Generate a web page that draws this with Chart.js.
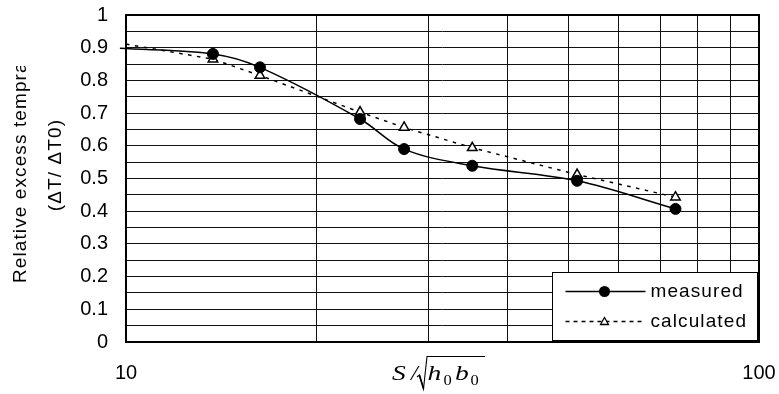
<!DOCTYPE html>
<html>
<head>
<meta charset="utf-8">
<script src="https://cdn.jsdelivr.net/npm/chart.js@4/dist/chart.umd.min.js"></script>
<style>
  html, body { margin: 0; padding: 0; background: #fff; overflow: hidden; }
  #wrap { width: 779px; height: 394px; position: relative; }
  canvas { display: block; }
</style>
</head>
<body>
<div id="wrap"><canvas id="chart" width="779" height="394"></canvas></div>
<script>
// Distance ratio S / sqrt(h0*b0) for each measurement station
const measuredX   = [9.78, 13.72, 16.28, 23.43, 27.5, 35.24, 51.6, 73.8];
const measuredY   = [0.898, 0.881, 0.840, 0.682, 0.590, 0.539, 0.493, 0.407];
const calculatedX = [10, 13.72, 16.28, 23.43, 27.5, 35.24, 51.6, 73.8];
const calculatedY = [0.911, 0.865, 0.815, 0.703, 0.656, 0.594, 0.512, 0.443];

// first entry of each series only carries the line in from the left edge
const measuredRadius   = [0, 5.5, 5.5, 5.5, 5.5, 5.5, 5.5, 5.5];
const calculatedRadius = [0, 5.5, 5.5, 5.5, 5.5, 5.5, 5.5, 5.5];

const seriesNames = ['measured', 'calculated'];
const xTickValues = [10, 100];
const xTickLabels = ['10', '100'];
const yTickLabels = ['0', '0.1', '0.2', '0.3', '0.4', '0.5', '0.6', '0.7', '0.8', '0.9', '1'];
const yTitleLines = ['Relative excess temprature', '(ΔT/ ΔT0)'];

const SANS = '"Liberation Sans", Arial, sans-serif';
const SERIF = '"Liberation Serif", "Times New Roman", serif';

// plot area edges in canvas pixels
const AREA = { left: 126, top: 15, right: 759, bottom: 342 };

function toPoints(xs, ys) { return xs.map((x, i) => ({ x: x, y: ys[i] })); }

// thick frame round the plot area
const framePlugin = {
  id: 'frame',
  beforeDatasetsDraw(chart) {
    const { ctx, chartArea: a } = chart;
    ctx.save();
    ctx.strokeStyle = '#000';
    ctx.lineWidth = 2;
    ctx.strokeRect(a.left, a.top, a.right - a.left, a.bottom - a.top);
    ctx.restore();
  }
};

// legend box in the lower right corner of the plot
const legendPlugin = {
  id: 'cornerLegend',
  afterDatasetsDraw(chart) {
    const { ctx, chartArea: a } = chart;
    const right = a.right - 1.5, bottom = a.bottom - 1.5;
    const left = right - 205, top = bottom - 68;
    ctx.save();
    ctx.fillStyle = '#fff';
    ctx.fillRect(left, top, right - left, bottom - top);
    ctx.strokeStyle = '#000';
    ctx.lineWidth = 1;
    ctx.strokeRect(left, top, right - left, bottom - top);

    const x0 = left + 13, x1 = left + 93, xm = left + 52;
    const rows = [top + 19, top + 49];
    const sets = chart.data.datasets;

    // measured
    ctx.strokeStyle = sets[0].borderColor;
    ctx.lineWidth = 1.5;
    ctx.setLineDash([]);
    ctx.beginPath(); ctx.moveTo(x0, rows[0]); ctx.lineTo(x1, rows[0]); ctx.stroke();
    ctx.fillStyle = '#000';
    ctx.beginPath(); ctx.arc(xm, rows[0], 5.5, 0, Math.PI * 2); ctx.fill();

    // calculated
    ctx.setLineDash([4, 4]);
    ctx.beginPath(); ctx.moveTo(x0, rows[1]); ctx.lineTo(x1, rows[1]); ctx.stroke();
    ctx.setLineDash([]);
    ctx.fillStyle = '#fff';
    ctx.lineWidth = 1.3;
    ctx.beginPath();
    ctx.moveTo(xm, rows[1] - 4);
    ctx.lineTo(xm + 4, rows[1] + 3);
    ctx.lineTo(xm - 4, rows[1] + 3);
    ctx.closePath();
    ctx.fill(); ctx.stroke();

    ctx.fillStyle = '#000';
    ctx.font = '19px ' + SANS;
    ctx.letterSpacing = '1.1px';
    ctx.textBaseline = 'middle';
    ctx.textAlign = 'left';
    ctx.fillText(seriesNames[0], left + 98, rows[0]);
    ctx.fillText(seriesNames[1], left + 98, rows[1]);
    ctx.restore();
  }
};

function wideText(ctx, text, x, y, sx) {
  ctx.save();
  ctx.translate(x, y);
  ctx.scale(sx, 1);
  ctx.fillText(text, 0, 0);
  ctx.restore();
}

// axis titles: rotated, partly hidden y title and the x expression
const titlePlugin = {
  id: 'axisTitles',
  afterDraw(chart) {
    const { ctx } = chart;
    ctx.save();
    ctx.fillStyle = '#000';
    ctx.font = '19px ' + SANS;
    ctx.letterSpacing = '1.1px';
    ctx.textBaseline = 'alphabetic';

    // first line, cut off by its text frame
    ctx.save();
    ctx.translate(25.5, 283);
    ctx.rotate(-Math.PI / 2);
    ctx.beginPath(); ctx.rect(-4, -30, 221, 60); ctx.clip();
    ctx.textAlign = 'left';
    ctx.fillText(yTitleLines[0], 0, 0);
    ctx.restore();

    // second line
    ctx.save();
    ctx.translate(61, 165);
    ctx.rotate(-Math.PI / 2);
    ctx.textAlign = 'center';
    ctx.fillText(yTitleLines[1], 0, 0);
    ctx.restore();

    // x title: S / sqrt(h0 b0)
    ctx.letterSpacing = '0px';
    ctx.textAlign = 'left';
    const base = 379.5;
    ctx.font = 'italic 22px ' + SERIF;
    wideText(ctx, 'S', 392, base, 1.25);
    wideText(ctx, '/', 411, base, 1.1);
    wideText(ctx, 'h', 427.5, base, 1.25);
    wideText(ctx, 'b', 455, base, 1.25);
    ctx.font = '15px ' + SERIF;
    wideText(ctx, '0', 443.5, base + 5, 1.1);
    wideText(ctx, '0', 470.5, base + 5, 1.1);
    ctx.strokeStyle = '#000';
    ctx.lineWidth = 1.1;
    ctx.beginPath();
    ctx.moveTo(417, 377);
    ctx.lineTo(419.5, 375);
    ctx.lineTo(423.5, 389);
    ctx.lineTo(427, 356.5);
    ctx.lineTo(485, 356.5);
    ctx.stroke();
    ctx.lineWidth = 1.7;
    ctx.beginPath();
    ctx.moveTo(419.5, 375.5);
    ctx.lineTo(423.5, 388.5);
    ctx.stroke();
    ctx.restore();
  }
};

const yGrid = [];
for (let k = 0; k <= 20; k++) yGrid.push(k / 20);
const xGrid = [];
for (let v = 10; v <= 100; v += 10) xGrid.push(v);

Chart.defaults.font.family = SANS;

new Chart(document.getElementById('chart'), {
  type: 'scatter',
  data: {
    datasets: [
      {
        label: seriesNames[0],
        data: toPoints(measuredX, measuredY),
        showLine: true,
        borderColor: '#000',
        borderWidth: 1.5,
        tension: 0.35,
        capBezierPoints: false,
        pointStyle: 'circle',
        pointRadius: measuredRadius,
        pointBackgroundColor: '#000',
        pointBorderColor: '#000',
        pointBorderWidth: 1,
        clip: false
      },
      {
        label: seriesNames[1],
        data: toPoints(calculatedX, calculatedY),
        showLine: true,
        borderColor: '#000',
        borderWidth: 1.5,
        borderDash: [3.5, 5.5],
        tension: 0,
        pointStyle: 'triangle',
        pointRadius: calculatedRadius,
        pointBackgroundColor: '#fff',
        pointBorderColor: '#000',
        pointBorderWidth: 1.5
      }
    ]
  },
  options: {
    responsive: false,
    animation: false,
    devicePixelRatio: 1,
    layout: {
      autoPadding: false,
      padding: { left: 0, right: 779 - AREA.right, top: AREA.top, bottom: 0 }
    },
    plugins: { legend: { display: false }, tooltip: { enabled: false } },
    scales: {
      x: {
        type: 'logarithmic',
        min: 10,
        max: 100,
        afterBuildTicks: s => { s.ticks = xGrid.map(v => ({ value: v })); },
        afterFit: s => {
          s.height = 394 - AREA.bottom;
          s.paddingLeft = s.paddingRight = s.paddingTop = s.paddingBottom = 0;
        },
        grid: { color: '#111', lineWidth: 1, drawTicks: false },
        border: { display: false },
        ticks: {
          autoSkip: false,
          maxRotation: 0,
          padding: 19,
          color: '#000',
          font: { size: 20 },
          callback: v => {
            const i = xTickValues.indexOf(v);
            return i >= 0 ? xTickLabels[i] : '';
          }
        }
      },
      y: {
        min: 0,
        max: 1,
        afterBuildTicks: s => { s.ticks = yGrid.map(v => ({ value: v })); },
        afterFit: s => {
          s.width = AREA.left;
          s.paddingLeft = s.paddingRight = s.paddingTop = s.paddingBottom = 0;
        },
        grid: { color: '#111', lineWidth: 1, drawTicks: false },
        border: { display: false },
        ticks: {
          autoSkip: false,
          padding: 18,
          color: '#000',
          font: { size: 20 },
          callback: v => {
            const k = Math.round(v * 20);
            return k % 2 === 0 ? yTickLabels[k / 2] : '';
          }
        }
      }
    }
  },
  plugins: [framePlugin, legendPlugin, titlePlugin]
});
</script>
</body>
</html>
